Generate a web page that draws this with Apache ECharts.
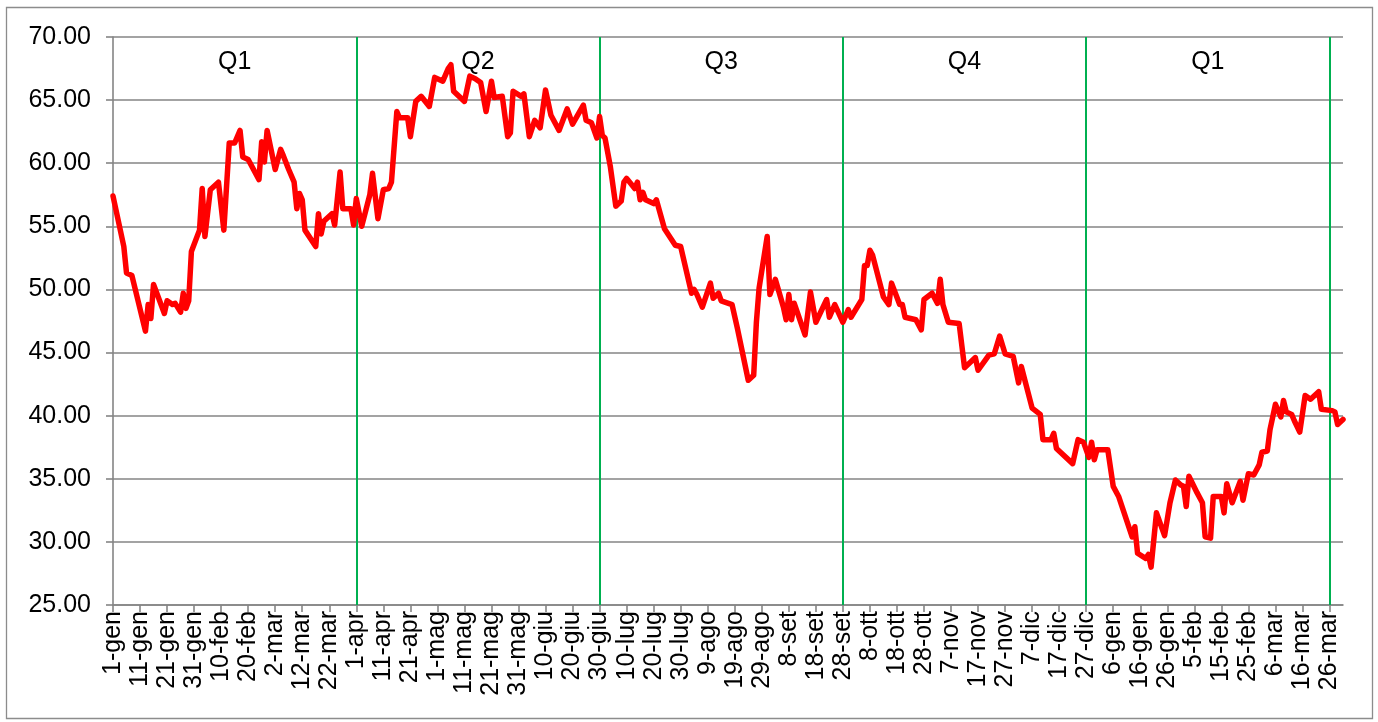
<!DOCTYPE html>
<html>
<head>
<meta charset="utf-8">
<script src="https://cdn.jsdelivr.net/npm/echarts@6/dist/echarts.min.js"></script>
<style>
html,body{margin:0;padding:0;background:#fff;}
#chart{width:1378px;height:722px;}
</style>
</head>
<body>
<div id="chart"></div>
<script>
// Italian month abbreviations used for the daily category labels
const monthNames = ['gen','feb','mar','apr','mag','giu','lug','ago','set','ott','nov','dic'];
const startYear = 2019;
const dayCount = 456; // 1-gen (year 1) .. 31-mar (year 2)

// Quarter labels and their boundaries (category indices)
const quarterLabels = ['Q1','Q2','Q3','Q4','Q1'];
const quarterStarts = [0, 90, 180, 270, 360];
const quarterEnds   = [90, 180, 270, 360, 450];
const quarterLines  = [90, 180, 270, 360, 450];

// Y axis ticks
const yMin = 25, yMax = 70, yStep = 5;

// Series: day index and value
const days = [0,4,5,7,12,13,14,15,19,20,22,23,25,26,27,28,29,32,33,34,36,39,41,43,45,47,48,50,54,55,56,57,60,62,63,65,67,68,69,70,71,75,76,77,78,81,82,84,85,88,89,90,92,95,96,98,100,102,103,105,106,109,110,112,114,117,119,122,124,125,126,130,132,134,136,138,140,141,144,146,147,148,151,152,154,156,158,160,162,165,168,170,174,175,177,179,180,181,182,184,186,188,189,190,193,194,195,196,197,200,201,204,208,210,214,215,216,218,221,222,224,225,229,231,235,237,238,239,242,243,245,248,249,250,251,252,256,258,260,264,265,267,270,272,273,277,278,279,280,281,285,287,288,291,292,293,297,299,300,303,305,306,307,309,313,315,319,320,324,326,328,330,333,335,336,340,343,344,347,348,349,355,357,359,361,362,363,364,368,370,372,377,378,379,382,383,384,386,389,391,393,395,396,397,398,401,403,404,406,407,410,411,412,414,417,418,420,422,424,425,427,428,430,432,433,434,436,437,439,441,443,446,447,451,452,453,455];
const values = [57.4,53.4,51.3,51.1,46.7,48.8,47.7,50.4,48.1,49.1,48.8,48.9,48.2,49.7,48.5,49.1,53.0,54.7,58.0,54.2,57.9,58.5,54.7,61.6,61.6,62.6,60.5,60.3,58.7,61.7,60.1,62.6,59.5,61.1,60.6,59.5,58.5,56.4,57.6,57.1,54.7,53.4,56.0,54.4,55.4,56.0,55.1,59.3,56.4,56.4,55.1,57.2,55.0,57.5,59.2,55.6,57.9,58.0,58.5,64.1,63.6,63.6,62.1,64.9,65.3,64.5,66.8,66.5,67.5,67.8,65.7,64.9,66.9,66.7,66.4,64.1,66.5,65.2,65.3,62.1,62.4,65.7,65.3,65.5,62.1,63.4,62.8,65.8,63.8,62.6,64.3,63.1,64.6,63.4,63.2,62.0,63.7,62.2,62.0,59.7,56.6,57.0,58.5,58.8,58.0,58.5,57.1,57.7,57.1,56.8,57.1,54.8,53.5,53.4,49.7,50.0,49.6,48.6,50.5,49.3,49.7,49.1,48.8,46.9,42.8,43.2,47.4,50.1,54.2,49.6,50.8,48.6,47.6,49.6,47.6,48.9,46.4,49.8,47.4,49.2,47.8,48.8,47.4,48.4,47.8,49.2,51.9,51.9,53.1,52.7,49.4,48.8,50.5,48.8,48.8,47.8,47.6,46.8,49.2,49.7,48.9,50.8,48.8,47.4,47.3,43.8,44.6,43.6,44.8,44.9,46.3,44.9,44.7,42.6,43.9,40.6,40.1,38.1,38.1,38.6,37.4,36.2,38.1,37.9,36.7,37.9,36.5,37.3,37.3,34.4,33.6,30.4,31.2,29.1,28.7,29.0,28.0,32.3,30.5,33.1,34.9,34.5,34.4,32.8,35.2,33.9,33.1,30.4,30.3,33.6,33.6,32.3,34.6,33.1,34.8,33.3,35.4,35.3,36.1,37.1,37.2,38.9,40.9,39.9,41.2,40.3,40.1,39.6,38.7,41.6,41.3,41.9,40.5,40.4,40.3,39.3,39.7];

// Build daily category labels like "1-gen"
const categories = [];
for (let i = 0; i < dayCount; i++) {
  const d = new Date(Date.UTC(startYear, 0, 1 + i));
  categories.push(d.getUTCDate() + '-' + monthNames[d.getUTCMonth()]);
}

const seriesData = days.map((d, i) => [d, values[i]]);

const axisGray = '#858585';
const font = '"Liberation Sans", Arial, sans-serif';

const chart = echarts.init(document.getElementById('chart'), null, {renderer: 'canvas'});
chart.setOption({
  animation: false,
  backgroundColor: '#ffffff',
  grid: {left: 113, right: 35, top: 37, bottom: 117, containLabel: false},
  graphic: [{
    type: 'rect',
    shape: {x: 6.5, y: 7.5, width: 1366, height: 711},
    style: {fill: 'none', stroke: '#8c8c8c', lineWidth: 1.3},
    silent: true
  }],
  xAxis: {
    type: 'category',
    data: categories,
    boundaryGap: false,
    axisLine: {show: true, lineStyle: {color: axisGray, width: 1.6}},
    axisTick: {show: true, interval: 9, length: 7, lineStyle: {color: axisGray, width: 1.6}},
    axisLabel: {
      interval: 9,
      rotate: 90,
      margin: 6,
      color: '#000',
      fontFamily: font,
      fontSize: 25
    },
    splitLine: {show: false}
  },
  yAxis: {
    type: 'value',
    min: yMin,
    max: yMax,
    interval: yStep,
    axisLine: {show: true, lineStyle: {color: axisGray, width: 1.6}},
    axisTick: {show: true, length: 7, lineStyle: {color: axisGray, width: 1.6}},
    axisLabel: {
      margin: 22,
      color: '#000',
      fontFamily: font,
      fontSize: 25,
      formatter: v => v.toFixed(2)
    },
    splitLine: {show: true, lineStyle: {color: axisGray, width: 1.6}}
  },
  series: [{
    type: 'line',
    data: seriesData,
    showSymbol: false,
    smooth: false,
    connectNulls: true,
    lineStyle: {color: '#ff0000', width: 5.5, join: 'round', cap: 'round'},
    itemStyle: {color: '#ff0000'},
    z: 5,
    markLine: {
      silent: true,
      symbol: ['none', 'none'],
      label: {show: false},
      lineStyle: {color: '#00b050', width: 2, type: 'solid'},
      data: quarterLines.map(x => ({xAxis: x}))
    },
    markArea: {
      silent: true,
      itemStyle: {color: 'rgba(0,0,0,0)'},
      label: {
        show: true,
        position: 'insideTop',
        distance: 13,
        color: '#000',
        fontFamily: font,
        fontSize: 25
      },
      data: quarterLabels.map((q, i) => [
        {name: q, xAxis: quarterStarts[i]},
        {xAxis: quarterEnds[i]}
      ])
    }
  }]
});
</script>
</body>
</html>
